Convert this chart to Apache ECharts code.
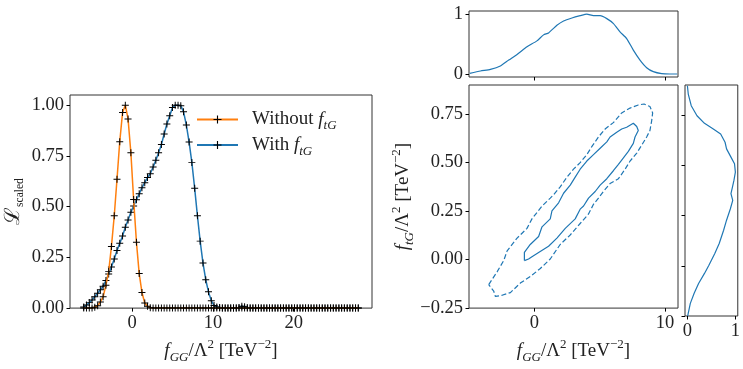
<!DOCTYPE html>
<html>
<head>
<meta charset="utf-8">
<script src="https://cdn.jsdelivr.net/npm/echarts@6/dist/echarts.min.js"></script>
<style>
  html, body { margin: 0; background: #fff; }
  #chart { width: 743px; height: 369px; }
</style>
</head>
<body>
<div id="chart"></div>
<script>
// f_GG / Lambda^2 scan points (left panel)
const xs = [
  -6.00, -5.66, -5.31, -4.97, -4.63, -4.28, -3.94, -3.60, -3.25, -2.91,
  -2.57, -2.22, -1.88, -1.54, -1.19, -0.85, -0.51, -0.16, 0.18, 0.53,
  0.87, 1.21, 1.56, 1.90, 2.24, 2.59, 2.93, 3.27, 3.62, 3.96,
  4.30, 4.65, 4.99, 5.33, 5.68, 6.02, 6.36, 6.71, 7.05, 7.39,
  7.74, 8.08, 8.42, 8.77, 9.11, 9.45, 9.80, 10.14, 10.48, 10.83,
  11.17, 11.52, 11.86, 12.20, 12.55, 12.89, 13.23, 13.58, 13.92, 14.26,
  14.61, 14.95, 15.29, 15.64, 15.98, 16.32, 16.67, 17.01, 17.35, 17.70,
  18.04, 18.38, 18.73, 19.07, 19.41, 19.76, 20.10, 20.44, 20.79, 21.13,
  21.47, 21.82, 22.16, 22.51, 22.85, 23.19, 23.54, 23.88, 24.22, 24.57,
  24.91, 25.25, 25.60, 25.94, 26.28, 26.63, 26.97, 27.31, 27.66, 28.00
];
const withFtG = [
  0.005, 0.015, 0.027, 0.040, 0.056, 0.073, 0.090, 0.108, 0.136, 0.168,
  0.203, 0.242, 0.284, 0.319, 0.355, 0.398, 0.434, 0.472, 0.503, 0.534,
  0.563, 0.593, 0.618, 0.643, 0.662, 0.695, 0.728, 0.765, 0.806, 0.858,
  0.907, 0.948, 0.988, 1.000, 1.000, 0.997, 0.968, 0.902, 0.818, 0.718,
  0.590, 0.455, 0.330, 0.222, 0.140, 0.080, 0.036, 0.013, 0.006, 0.003,
  0.001, 0, 0, 0, 0, 0, 0.003, 0.009, 0.007, 0.002,
  0, 0, 0, 0, 0, 0, 0, 0, 0, 0,
  0, 0, 0, 0, 0, 0, 0, 0, 0, 0,
  0, 0, 0, 0, 0, 0, 0, 0, 0, 0,
  0, 0, 0, 0, 0, 0, 0, 0, 0, 0
];
const withoutFtG = [
  0, 0, 0, 0.001, 0.004, 0.012, 0.030, 0.056, 0.113, 0.181,
  0.303, 0.455, 0.635, 0.820, 0.964, 1.000, 0.932, 0.765, 0.535, 0.324,
  0.170, 0.077, 0.025, 0.009, 0.002, 0, 0, 0, 0, 0,
  0, 0, 0, 0, 0, 0, 0, 0, 0, 0,
  0, 0, 0, 0, 0, 0, 0, 0, 0, 0,
  0, 0, 0, 0, 0, 0, 0, 0, 0, 0,
  0, 0, 0, 0, 0, 0, 0, 0, 0, 0,
  0, 0, 0, 0, 0, 0, 0, 0, 0, 0,
  0, 0, 0, 0, 0, 0, 0, 0, 0, 0,
  0, 0, 0, 0, 0, 0, 0, 0, 0, 0
];

// marginal of f_GG (top right)
const topX = [-4.94, -4.12, -3.36, -2.60, -1.96, -1.32, -0.56, 0.20, 0.71, 1.09,
  1.73, 2.24, 2.88, 3.51, 4.02, 4.53, 5.04, 5.55, 6.06, 6.56,
  7.07, 7.58, 8.09, 8.60, 9.11, 9.75, 10.38, 10.94];
const topY = [0.011, 0.050, 0.077, 0.133, 0.232, 0.326, 0.453, 0.552, 0.652, 0.685,
  0.812, 0.884, 0.934, 0.972, 0.998, 0.972, 0.972, 0.923, 0.840, 0.702,
  0.591, 0.398, 0.232, 0.105, 0.039, 0.006, 0.000, 0.000];

// marginal of f_tG (right side)
const sideY = [0.896, 0.855, 0.797, 0.747, 0.709, 0.681, 0.656, 0.615, 0.582, 0.541,
  0.508, 0.466, 0.425, 0.392, 0.359, 0.326, 0.284, 0.227, 0.177, 0.111,
  0.061, 0.003, -0.038, -0.088, -0.137, -0.187, -0.236, -0.250];
const sideV = [0.000, 0.018, 0.080, 0.200, 0.356, 0.540, 0.693, 0.785, 0.816, 0.908,
  0.982, 1.000, 0.970, 0.939, 0.908, 0.945, 0.896, 0.816, 0.755, 0.663,
  0.571, 0.448, 0.356, 0.233, 0.141, 0.061, 0.018, 0.006];

// 2d contours (solid inner, dashed outer)
const innerContour = [
  [-0.76, -0.005], [-0.76, 0.037], [-0.31, 0.078], [0.33, 0.119], [0.59, 0.169],
  [1.22, 0.210], [1.35, 0.251], [1.86, 0.293], [2.24, 0.342], [2.75, 0.384],
  [3.13, 0.425], [3.51, 0.466], [4.02, 0.508], [4.53, 0.541], [5.04, 0.574],
  [5.55, 0.607], [5.80, 0.632], [6.31, 0.657], [6.69, 0.673], [7.07, 0.682],
  [7.58, 0.703], [7.84, 0.686], [7.96, 0.665], [7.71, 0.632], [7.58, 0.599],
  [7.20, 0.558], [6.82, 0.524], [6.44, 0.491], [6.05, 0.458], [5.55, 0.417],
  [5.04, 0.384], [4.66, 0.351], [4.15, 0.317], [3.77, 0.276], [3.51, 0.260],
  [3.13, 0.210], [2.37, 0.161], [1.73, 0.111], [1.09, 0.069], [0.33, 0.037],
  [-0.18, 0.015], [-0.44, 0.003], [-0.76, -0.005]
];
const outerContour = [
  [-3.49, -0.129], [-2.85, -0.063], [-2.34, -0.005], [-2.08, 0.045], [-1.32, 0.111],
  [-0.56, 0.161], [-0.18, 0.210], [0.59, 0.276], [1.22, 0.317], [1.47, 0.334],
  [1.98, 0.375], [2.50, 0.425], [3.00, 0.466], [3.51, 0.500], [4.02, 0.541],
  [4.40, 0.582], [4.91, 0.632], [5.42, 0.673], [6.05, 0.706], [6.69, 0.756],
  [7.33, 0.781], [7.96, 0.797], [8.40, 0.802], [8.85, 0.789], [9.06, 0.756],
  [8.98, 0.714], [8.85, 0.665], [8.60, 0.632], [8.22, 0.590], [7.84, 0.549],
  [7.33, 0.508], [6.95, 0.466], [6.44, 0.417], [5.80, 0.392], [5.29, 0.351],
  [4.91, 0.317], [4.53, 0.285], [4.15, 0.235], [3.51, 0.186], [2.75, 0.127],
  [1.98, 0.078], [1.22, 0.003], [0.46, -0.046], [-0.31, -0.087], [-1.07, -0.121],
  [-1.83, -0.170], [-2.47, -0.184], [-2.98, -0.190], [-3.11, -0.162], [-3.49, -0.129]
];

// tick positions
const leftXTicks = [0, 10, 20];
const leftYTicks = [0, 0.25, 0.5, 0.75, 1];
const mainXTicks = [0, 10];
const mainYTicks = [-0.25, 0, 0.25, 0.5, 0.75];
const margTicks = [0, 1];

const FONT = '"Liberation Serif", "DejaVu Serif", serif';
const BLUE = '#1f77b4';
const ORANGE = '#ff7f0e';
const PLUS = 'path://M4.3,0h1.4v10h-1.4zM0,4.3h10v1.4h-10z';

const rich = {
  n: { fontFamily: FONT, fontSize: 19, color: '#222', lineHeight: 26 },
  i: { fontFamily: FONT, fontSize: 19, color: '#222', fontStyle: 'italic', lineHeight: 26 },
  s: { fontFamily: FONT, fontSize: 13, color: '#222', fontStyle: 'italic', verticalAlign: 'bottom' },
  u: { fontFamily: FONT, fontSize: 11.5, color: '#222', verticalAlign: 'bottom' },
  p: { fontFamily: FONT, fontSize: 13, color: '#222', verticalAlign: 'top' }
};
const fggName = '{i|f}{s|GG}{n|/Λ}{p|2}{n| [TeV}{p|−2}{n|]}';
const ftgName = '{i|f}{s|tG}{n|/Λ}{p|2}{n| [TeV}{p|−2}{n|]}';

const zip = (a, b) => a.map((v, k) => [v, b[k]]);
const fmt2 = v => (v < 0 ? '−' : '') + Math.abs(v).toFixed(2);

function axis(grid, min, max, ticks, fmt, extra) {
  return Object.assign({
    type: 'value',
    gridIndex: grid,
    min: min,
    max: max,
    axisLine: { show: false, onZero: false },
    splitLine: { show: false },
    axisTick: { show: true, length: 3.5, customValues: ticks, lineStyle: { color: '#000', width: 1 } },
    axisLabel: {
      show: !!fmt,
      customValues: ticks,
      formatter: fmt || undefined,
      color: '#222',
      fontFamily: FONT,
      fontSize: 18.5,
      margin: 6
    }
  }, extra || {});
}

const frame = { show: true, borderColor: '#333', borderWidth: 1, backgroundColor: 'transparent' };

const chart = echarts.init(document.getElementById('chart'));
chart.setOption({
  animation: false,
  backgroundColor: '#fff',
  grid: [
    Object.assign({ left: 70, top: 95, width: 302, height: 224 }, frame),
    Object.assign({ left: 469, top: 85, width: 209, height: 231 }, frame),
    Object.assign({ left: 469, top: 11, width: 209, height: 66 }, frame),
    Object.assign({ left: 685, top: 85, width: 60, height: 231 }, frame)
  ],
  legend: {
    data: ['Without f_tG', 'With f_tG'],
    orient: 'vertical',
    left: 196,
    top: 110,
    padding: 0,
    itemWidth: 41,
    itemHeight: 10,
    itemGap: 3,
    formatter: n => n === 'Without f_tG' ? '{n|Without }{i|f}{s|tG}' : '{n|With }{i|f}{s|tG}',
    textStyle: { fontFamily: FONT, fontSize: 19, color: '#222', padding: [0, 0, 0, 9], rich: rich }
  },
  xAxis: [
    axis(0, -7.7, 29.7, leftXTicks, v => String(v), {
      name: fggName, nameLocation: 'middle', nameGap: 23, nameTextStyle: { rich: rich }
    }),
    axis(1, -5, 11, mainXTicks, v => String(v), {
      name: fggName, nameLocation: 'middle', nameGap: 25, nameTextStyle: { rich: rich }
    }),
    axis(2, -5, 11, mainXTicks, null),
    axis(3, -0.05, 1.05, margTicks, v => String(v))
  ],
  yAxis: [
    axis(0, 0, 1.05, leftYTicks, fmt2, {
      name: '{L|ℒ}{u|scaled}', nameLocation: 'middle', nameGap: 44,
      nameTextStyle: { rich: Object.assign({ L: { fontFamily: FONT, fontSize: 21, color: '#222', lineHeight: 26 } }, rich) }
    }),
    axis(1, -0.25, 0.9, mainYTicks, fmt2, {
      name: ftgName, nameLocation: 'middle', nameGap: 50, nameTextStyle: { rich: rich }
    }),
    axis(2, -0.05, 1.05, margTicks, v => String(v)),
    axis(3, -0.25, 0.9, mainYTicks, null)
  ],
  series: [
    {
      name: 'With f_tG', type: 'line', xAxisIndex: 0, yAxisIndex: 0,
      data: zip(xs, withFtG),
      symbol: PLUS, symbolSize: 7, showAllSymbol: true,
      itemStyle: { color: '#000' },
      lineStyle: { color: BLUE, width: 1.5 },
      z: 2
    },
    {
      name: 'Without f_tG', type: 'line', xAxisIndex: 0, yAxisIndex: 0,
      data: zip(xs, withoutFtG),
      symbol: PLUS, symbolSize: 7, showAllSymbol: true,
      itemStyle: { color: '#000' },
      lineStyle: { color: ORANGE, width: 1.5 },
      z: 3
    },
    {
      type: 'line', xAxisIndex: 1, yAxisIndex: 1, data: innerContour,
      showSymbol: false, lineStyle: { color: BLUE, width: 1.2 }, silent: true
    },
    {
      type: 'line', xAxisIndex: 1, yAxisIndex: 1, data: outerContour,
      showSymbol: false, lineStyle: { color: BLUE, width: 1.2, type: [5, 2.5] }, silent: true
    },
    {
      type: 'line', xAxisIndex: 2, yAxisIndex: 2, data: zip(topX, topY),
      showSymbol: false, smooth: 0.2, lineStyle: { color: BLUE, width: 1.2 }, silent: true
    },
    {
      type: 'line', xAxisIndex: 3, yAxisIndex: 3, data: zip(sideV, sideY),
      showSymbol: false, lineStyle: { color: BLUE, width: 1.2 }, silent: true
    }
  ]
});
</script>
</body>
</html>
